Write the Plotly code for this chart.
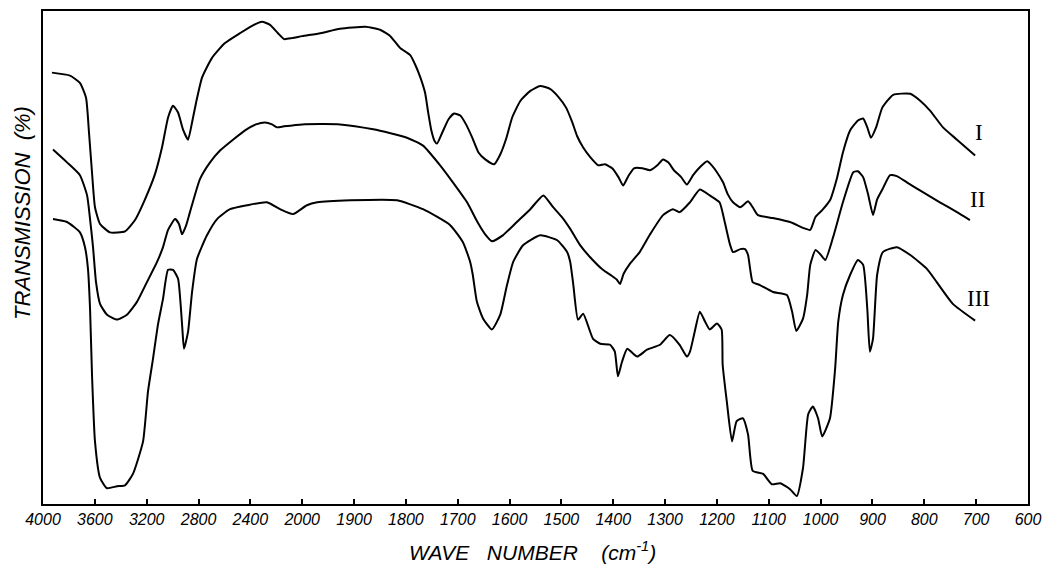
import plotly.graph_objects as go

# ---------------- data (wavenumber cm^-1, transmission %) ----------------
tick_wavenumbers = [4000, 3600, 3200, 2800, 2400, 2000, 1900, 1800, 1700, 1600,
                    1500, 1400, 1300, 1200, 1100, 1000, 900, 800, 700, 600]
tick_labels = [str(v) for v in tick_wavenumbers]

wn_I = [3931, 3792, 3715, 3668, 3645, 3622, 3599, 3560, 3483, 3367, 3290, 3213, 3136, 3082,
        3035, 2997, 2958, 2920, 2881, 2850, 2819, 2773, 2696, 2596, 2480, 2387, 2310, 2248,
        2187, 2140, 2079, 2000, 1965, 1927, 1878, 1850, 1830, 1811, 1792, 1782, 1772, 1763,
        1757, 1751, 1745, 1740, 1730, 1718, 1707, 1695, 1684, 1672, 1660, 1647, 1630, 1618,
        1606, 1595, 1579, 1560, 1541, 1522, 1506, 1491, 1479, 1470, 1458, 1444, 1429, 1416,
        1402, 1390, 1381, 1371, 1360, 1344, 1329, 1315, 1304, 1294, 1283, 1269, 1258, 1246,
        1233, 1219, 1210, 1200, 1188, 1179, 1169, 1155, 1140, 1131, 1121, 1092, 1059, 1034,
        1020, 1010, 997, 982, 968, 957, 943, 928, 918, 910, 903, 893, 881, 860, 827, 808,
        789, 764, 737, 702]
T_I = [87.5, 86.9, 85.4, 82.4, 75.3, 67.3, 60.2, 56.8, 55.1, 55.3, 57.6, 61.8, 66.9, 72.3,
       78.4, 80.8, 79.4, 76.0, 73.9, 77.4, 81.4, 86.5, 90.5, 93.5, 95.5, 97.0, 97.8, 97.2,
       95.5, 94.3, 94.5, 94.9, 95.5, 96.4, 96.8, 96.2, 94.9, 92.5, 91.1, 89.1, 86.5, 83.4,
       79.4, 75.8, 73.7, 73.1, 75.3, 78.0, 79.2, 78.8, 77.0, 74.3, 71.3, 69.9, 68.9, 70.9,
       74.3, 78.4, 81.8, 83.8, 84.8, 84.2, 82.6, 80.4, 77.4, 74.7, 72.3, 70.3, 68.7, 68.9,
       68.1, 66.3, 64.6, 66.5, 68.1, 68.1, 67.7, 68.7, 69.9, 69.3, 67.7, 66.3, 64.8, 66.7,
       68.3, 69.5, 68.7, 67.3, 65.2, 62.8, 61.2, 60.2, 61.4, 60.2, 58.6, 58.0, 57.2, 56.0,
       55.6, 58.2, 59.6, 61.6, 66.3, 71.3, 75.8, 77.8, 78.2, 76.4, 74.3, 76.4, 80.4, 83.0,
       83.2, 81.8, 79.8, 76.4, 73.9, 70.7]

wn_II = [3923, 3815, 3715, 3660, 3637, 3614, 3591, 3560, 3506, 3429, 3352, 3275, 3198, 3120,
         3074, 3035, 2981, 2951, 2927, 2897, 2866, 2789, 2711, 2634, 2534, 2441, 2357, 2287,
         2233, 2195, 2140, 2000, 1927, 1863, 1798, 1767, 1734, 1709, 1682, 1662, 1647, 1634,
         1613, 1586, 1560, 1535, 1516, 1499, 1483, 1464, 1445, 1420, 1403, 1393, 1387, 1380,
         1368, 1349, 1329, 1304, 1285, 1272, 1252, 1233, 1214, 1195, 1185, 1175, 1169, 1155,
         1146, 1140, 1136, 1131, 1117, 1092, 1065, 1055, 1047, 1034, 1026, 1020, 1010, 1001,
         991, 976, 957, 937, 928, 918, 908, 899, 891, 881, 866, 853, 833, 802, 770, 737, 712]
T_II = [71.9, 69.3, 66.7, 62.6, 57.8, 52.1, 45.0, 40.6, 38.4, 37.4, 38.4, 41.0, 45.0, 49.1,
        52.1, 55.6, 57.8, 56.8, 54.7, 56.4, 59.2, 65.9, 69.3, 71.7, 73.9, 75.8, 77.0, 77.4,
        77.0, 76.4, 76.6, 77.0, 77.0, 76.0, 74.3, 72.7, 68.7, 65.2, 61.2, 57.2, 54.7, 53.3,
        54.5, 57.2, 59.8, 62.6, 60.2, 58.2, 55.8, 52.5, 50.1, 47.5, 46.3, 45.5, 44.6, 46.7,
        48.7, 51.1, 54.7, 58.6, 59.8, 59.2, 61.2, 63.8, 62.6, 61.2, 57.2, 52.7, 51.1, 51.7,
        51.7, 50.5, 47.7, 45.0, 44.4, 43.0, 42.4, 39.0, 35.1, 37.6, 42.4, 48.5, 51.5, 50.7,
        49.5, 54.1, 61.2, 67.3, 67.5, 66.3, 62.6, 58.6, 61.8, 63.8, 66.7, 66.5, 65.2, 63.2,
        61.2, 59.2, 57.6]

wn_III = [3923, 3815, 3715, 3676, 3653, 3637, 3622, 3599, 3560, 3506, 3429, 3367, 3306, 3228,
          3190, 3151, 3113, 3074, 3035, 2997, 2958, 2927, 2912, 2881, 2850, 2812, 2735, 2657,
          2557, 2426, 2272, 2171, 2071, 1991, 1971, 1907, 1817, 1767, 1715, 1690, 1676, 1671,
          1663, 1651, 1634, 1618, 1605, 1593, 1574, 1541, 1508, 1489, 1483, 1477, 1468, 1458,
          1439, 1425, 1406, 1397, 1391, 1383, 1373, 1354, 1335, 1310, 1291, 1272, 1258, 1252,
          1243, 1233, 1223, 1214, 1200, 1191, 1189, 1181, 1171, 1162, 1150, 1140, 1131, 1111,
          1094, 1078, 1059, 1046, 1034, 1024, 1015, 1005, 997, 982, 972, 966, 957, 943, 928,
          918, 910, 905, 899, 891, 880, 853, 827, 795, 776, 745, 702]
T_III = [57.8, 57.2, 55.1, 52.1, 47.7, 39.6, 26.3, 12.7, 5.3, 3.2, 3.6, 3.8, 6.1, 12.7,
         22.8, 29.5, 36.4, 41.6, 47.5, 47.5, 45.7, 36.4, 31.5, 34.9, 43.0, 49.7, 54.5, 57.8,
         59.8, 60.6, 61.2, 59.8, 58.8, 60.6, 61.2, 61.6, 61.6, 59.8, 56.6, 53.1, 49.1, 46.5,
         41.0, 37.6, 35.4, 38.4, 44.4, 49.1, 52.5, 54.5, 53.5, 51.1, 49.1, 44.4, 37.4, 38.6,
         33.5, 32.5, 32.3, 30.9, 25.9, 28.9, 31.5, 29.9, 31.3, 32.3, 34.3, 32.3, 29.9, 30.9,
         34.9, 39.0, 37.0, 35.4, 36.6, 35.4, 28.3, 20.8, 12.7, 16.8, 17.4, 14.1, 6.7, 6.1,
         4.0, 4.2, 3.0, 1.6, 7.3, 18.2, 19.8, 17.4, 13.7, 17.4, 27.5, 37.0, 42.4, 46.5, 49.5,
         48.5, 39.6, 30.9, 33.5, 46.5, 51.1, 52.1, 50.5, 47.7, 45.0, 40.6, 37.2]

curve_names = ["I", "II", "III"]
label_wn = [695, 697, 695]
label_T = [75.3, 61.8, 41.6]


# Chart paper scale: 400 cm^-1 per division above 2000, 100 cm^-1 per division below
def wn_to_pos(wn):
    return (4000 - wn) / 400 if wn >= 2000 else 5 + (2000 - wn) / 100


fig = go.Figure()
for wn, T in [(wn_I, T_I), (wn_II, T_II), (wn_III, T_III)]:
    fig.add_trace(go.Scatter(
        x=[wn_to_pos(w) for w in wn], y=T, mode="lines",
        line=dict(color="black", width=2, shape="spline", smoothing=0.5),
        showlegend=False, hoverinfo="skip"))

for name, w, t in zip(curve_names, label_wn, label_T):
    fig.add_annotation(x=wn_to_pos(w), y=t, text=name, showarrow=False,
                       font=dict(family="Liberation Serif", size=23, color="black"),
                       xanchor="center", yanchor="middle")

fig.add_annotation(xref="paper", yref="paper", x=-0.0215, y=0.59, text="TRANSMISSION  (%)",
                   textangle=-90, showarrow=False, xanchor="center", yanchor="middle",
                   font=dict(family="Liberation Sans", size=22, color="black", style="italic"))
fig.add_annotation(xref="paper", yref="paper", x=0.497, y=-0.095,
                   text="WAVE&nbsp;&nbsp;&nbsp;NUMBER&nbsp;&nbsp;&nbsp;&nbsp;(cm<sup>-1</sup>)",
                   showarrow=False, xanchor="center", yanchor="middle",
                   font=dict(family="Liberation Sans", size=21, color="black", style="italic"))

fig.update_xaxes(range=[0, 19], tickmode="array",
                 tickvals=[wn_to_pos(v) for v in tick_wavenumbers], ticktext=tick_labels,
                 ticks="inside", ticklen=5, tickwidth=1.5, tickcolor="black",
                 showline=True, linecolor="black", linewidth=1.5, mirror=True,
                 showgrid=False, zeroline=False,
                 tickfont=dict(family="Liberation Sans", size=16, color="black", style="italic"))
fig.update_yaxes(range=[0, 100], showticklabels=False, ticks="",
                 showline=True, linecolor="black", linewidth=1.5, mirror=True,
                 showgrid=False, zeroline=False)

# the page body adds an 8px margin, so the figure is sized to fit the window exactly
fig.update_layout(width=1042, height=559, margin=dict(l=35, r=22, t=1, b=63),
                  plot_bgcolor="white", paper_bgcolor="white")

fig.write_html("out.html")
